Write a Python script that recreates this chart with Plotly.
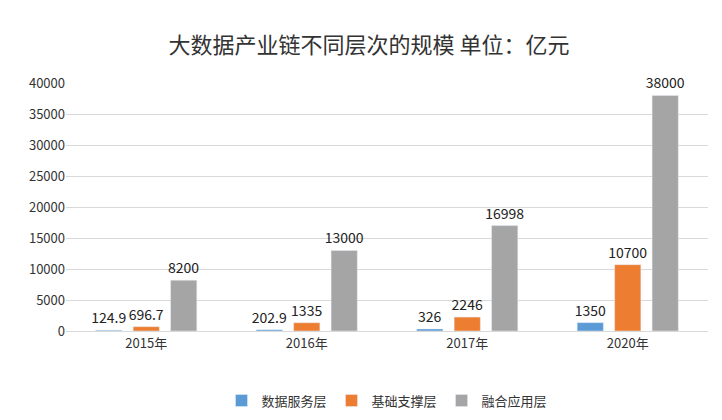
import plotly.graph_objects as go

years = ["2015年", "2016年", "2017年", "2020年"]
service = [124.9, 202.9, 326, 1350]
support = [696.7, 1335, 2246, 10700]
apply_ = [8200, 13000, 16998, 38000]

names = ["数据服务层", "基础支撑层", "融合应用层"]
colours = ["#5B9BD5", "#ED7D31", "#A5A5A5"]

fig = go.Figure()
for name, vals, c in zip(names, [service, support, apply_], colours):
    fig.add_trace(go.Bar(
        x=years, y=vals, name=name, marker_color=c,
        text=[f"{v:g}" for v in vals], textposition="outside",
        textfont=dict(size=14, color="#222"), cliponaxis=False,
        constraintext="none",
    ))

fig.update_layout(
    width=722, height=420,
    title=dict(text="大数据产业链不同层次的规模 单位：亿元", x=0.5, y=0.93,
               font=dict(size=22, color="#333")),
    font=dict(family="Noto Sans CJK SC, Liberation Sans", size=13, color="#333"),
    barmode="group", bargap=0.3, bargroupgap=0.3,
    plot_bgcolor="white", paper_bgcolor="white",
    margin=dict(l=58, r=22, t=75, b=94),
    legend=dict(orientation="h", x=0.5, xanchor="center", y=-0.22, font=dict(size=13)),
    uniformtext=dict(mode=False),
)
fig.update_yaxes(range=[0, 40000], dtick=5000, tickformat="d", showgrid=True,
                 gridcolor="#D9D9D9", zeroline=False, tickfont=dict(size=13))
fig.update_xaxes(showline=True, linecolor="#D9D9D9", tickfont=dict(size=13))

fig.write_html("out.html")
